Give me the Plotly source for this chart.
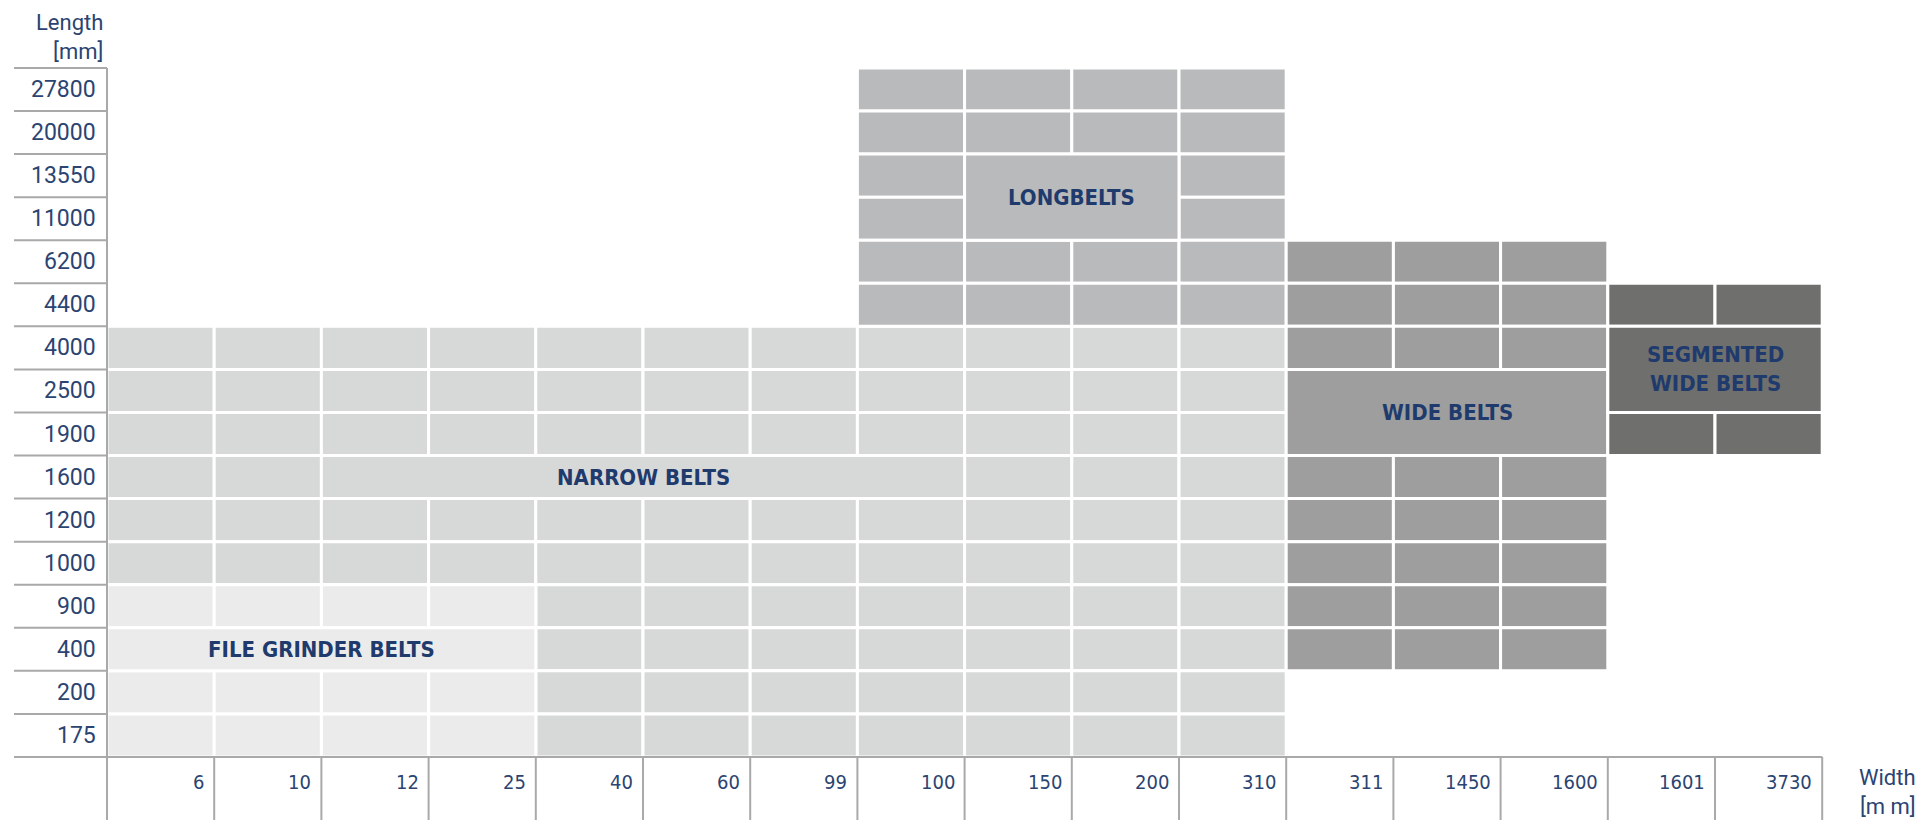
import plotly.graph_objects as go

# axis categories (top row first / left column first)
widths = ["6", "10", "12", "25", "40", "60", "99", "100", "150", "200", "310",
          "311", "1450", "1600", "1601", "3730"]
lengths = ["27800", "20000", "13550", "11000", "6200", "4400", "4000", "2500",
           "1900", "1600", "1200", "1000", "900", "400", "200", "175"]

# belt families: covered width / length ranges and the merged label block
belt_names = ["NARROW BELTS", "FILE GRINDER BELTS", "LONGBELTS", "WIDE BELTS",
              "SEGMENTED<br>WIDE BELTS"]
belt_colors = ["#d7d8d8", "#eaebea", "#b9babb", "#9d9e9d", "#6f6f6d"]
belt_width_span = [("6", "310"), ("6", "25"), ("100", "310"), ("311", "1600"), ("1601", "3730")]
belt_length_span = [("4000", "175"), ("900", "175"), ("27800", "4400"), ("6200", "400"), ("4400", "1900")]
label_width_span = [("12", "100"), ("6", "25"), ("150", "200"), ("311", "1600"), ("1601", "3730")]
label_length_span = [("1600", "1600"), ("400", "400"), ("13550", "11000"), ("2500", "1900"), ("4000", "2500")]

W, H = 1930, 820
OFF = 8                      # page body margin of the html file
LEFT, TOP = 107 - OFF, 68 - OFF   # figure pixel of the grid's top-left corner
CELL_W, CELL_H = 107.2, 43.06
LINE_GREY = "#a9a9a9"
TICK_COLOR = "#2b4471"
LABEL_COLOR = "#1f3a6c"
COND = "Liberation Sans Narrow, DejaVu Sans Condensed, sans-serif"

# data ranges so that the whole page is the plotting area
x_range = [-0.5 - LEFT / CELL_W, -0.5 + (W - LEFT) / CELL_W]
y_range = [-0.5 + (H - TOP) / CELL_H, -0.5 - TOP / CELL_H]
x_left_lines = -0.5 - (LEFT - (14 - OFF)) / CELL_W
nw, nl = len(widths), len(lengths)

shapes = []
annotations = []


def cell(i0, i1, r0, r1, color):
    shapes.append(dict(type="rect", xref="x", yref="y",
                       x0=i0 - 0.5, x1=i1 + 0.5, y0=r0 - 0.5, y1=r1 + 0.5,
                       fillcolor=color, line=dict(color="white", width=3)))


hx, hy, htext = [], [], []
for name, color, ws, ls, mws, mls in zip(belt_names, belt_colors, belt_width_span,
                                         belt_length_span, label_width_span, label_length_span):
    i0, i1 = widths.index(ws[0]), widths.index(ws[1])
    r0, r1 = lengths.index(ls[0]), lengths.index(ls[1])
    mi0, mi1 = widths.index(mws[0]), widths.index(mws[1])
    mr0, mr1 = lengths.index(mls[0]), lengths.index(mls[1])
    for i in range(i0, i1 + 1):
        for r in range(r0, r1 + 1):
            hx.append(i)
            hy.append(r)
            htext.append(f"{name.replace('<br>', ' ')}<br>Width {widths[i]} mm<br>Length {lengths[r]} mm")
            if mi0 <= i <= mi1 and mr0 <= r <= mr1:
                continue
            cell(i, i, r, r, color)
    cell(mi0, mi1, mr0, mr1, color)
    annotations.append(dict(xref="x", yref="y", x=(mi0 + mi1) / 2, y=(mr0 + mr1) / 2,
                            text=name, showarrow=False,
                            font=dict(family=COND, size=22, color=LABEL_COLOR, weight=700)))

# length tick column
for r in range(nl + 1):
    shapes.append(dict(type="line", xref="x", yref="y", x0=x_left_lines, x1=-0.5,
                       y0=r - 0.5, y1=r - 0.5, line=dict(color=LINE_GREY, width=2)))
for r, lab in enumerate(lengths):
    annotations.append(dict(xref="x", yref="y", x=-0.5, y=r, text=lab, showarrow=False,
                            xanchor="right", xshift=-9,
                            font=dict(family="Roboto", size=23, color=TICK_COLOR)))

# width tick row
shapes.append(dict(type="line", xref="x", yref="y", x0=-0.5, x1=nw - 0.5,
                   y0=nl - 0.5, y1=nl - 0.5, line=dict(color=LINE_GREY, width=2)))
for i in range(nw + 1):
    shapes.append(dict(type="line", xref="x", yref="y", x0=i - 0.5, x1=i - 0.5,
                       y0=nl - 0.5, y1=y_range[0], line=dict(color=LINE_GREY, width=2)))
shapes.append(dict(type="line", xref="x", yref="y", x0=-0.5, x1=-0.5,
                   y0=-0.5, y1=nl - 0.5, line=dict(color=LINE_GREY, width=2)))
for i, lab in enumerate(widths):
    annotations.append(dict(xref="x", yref="y", x=i + 0.5, y=nl - 0.5 + 0.58, text=lab,
                            showarrow=False, xanchor="right", xshift=-8,
                            font=dict(family=COND, size=20, color=TICK_COLOR)))

# axis titles
annotations.append(dict(xref="paper", yref="paper", x=(105 - OFF) / W, y=1 - (37 - OFF) / H,
                        text="Length<br>[mm]", showarrow=False, xanchor="right", yanchor="middle",
                        align="right", font=dict(family="Roboto", size=22, color=TICK_COLOR)))
annotations.append(dict(xref="paper", yref="paper", x=(1918 - OFF) / W, y=1 - (792 - OFF) / H,
                        text="Width<br>[m m]", showarrow=False, xanchor="right", yanchor="middle",
                        align="right", font=dict(family="Roboto", size=22, color=TICK_COLOR)))

fig = go.Figure()
fig.add_trace(go.Scatter(x=hx, y=hy, mode="markers", marker=dict(size=20, opacity=0),
                         text=htext, hoverinfo="text", showlegend=False))
fig.update_layout(
    width=W, height=H,
    margin=dict(l=0, r=0, t=0, b=0),
    plot_bgcolor="white", paper_bgcolor="white",
    xaxis=dict(range=x_range, visible=False, fixedrange=True),
    yaxis=dict(range=y_range, visible=False, fixedrange=True),
    shapes=shapes,
    annotations=annotations,
)
fig.write_html("out.html")
